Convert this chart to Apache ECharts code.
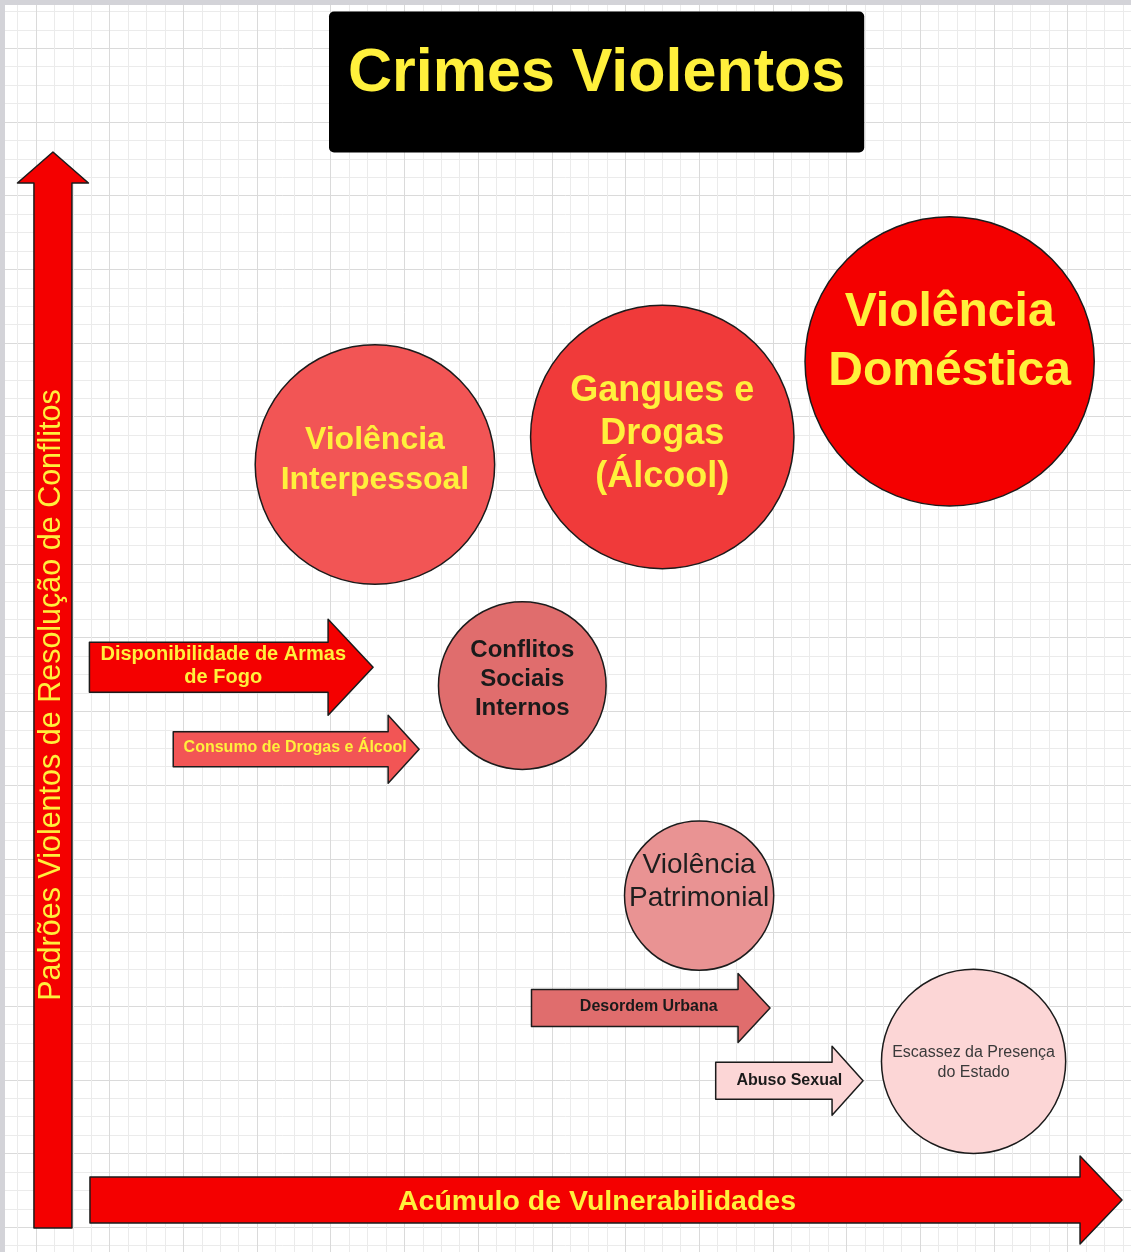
<!DOCTYPE html>
<html>
<head>
<meta charset="utf-8">
<title>Crimes Violentos</title>
<script src="https://cdn.jsdelivr.net/npm/echarts@6/dist/echarts.min.js"></script>
<style>
  html, body { margin: 0; padding: 0; background: #fff; }
  #chart { width: 1131px; height: 1252px; }
</style>
</head>
<body>
<div id="chart"></div>
<script>
// values are in grid-cell units: x = accumulated vulnerability, y = violent conflict patterns
const titleText = 'Crimes Violentos';
const xAxisTitle = 'Acúmulo de Vulnerabilidades';
const yAxisTitle = 'Padrões Violentos de Resolução de Conflitos';

const crimeNames = [
  'Violência\nInterpessoal',
  'Gangues e\nDrogas\n(Álcool)',
  'Violência\nDoméstica',
  'Conflitos\nSociais\nInternos',
  'Violência\nPatrimonial',
  'Escassez da Presença\ndo Estado'
];
const crimeVulnerability = [22.4, 38.0, 53.6, 30.4, 40.0, 54.9];
const crimeViolence = [45.4, 46.9, 51.0, 33.4, 22.0, 13.0];
const crimeWeight = [13.0, 14.3, 15.7, 9.1, 8.1, 10.0];

const factorNames = [
  'Disponibilidade de Armas\nde Fogo',
  'Consumo de Drogas e Álcool',
  'Desordem Urbana',
  'Abuso Sexual'
];
const factorFrom = [6.9, 11.45, 30.9, 40.9];
const factorTo = [22.3, 24.8, 43.85, 48.9];
const factorLevel = [34.4, 29.95, 15.9, 11.95];

// [from, to, level] and [position, from, to]
const xArrowValues = [6.93, 62.96, 5.48];
const yArrowValues = [4.92, 3.96, 62.37];

// styling
const CELL = 18.42;
const FONT = "'Liberation Sans', Arial, sans-serif";
const YELLOW = '#FFF03C';
const OUTLINE = '#1b1b1b';

const crimeStyles = [
  { fill: '#F25555', text: YELLOW, size: 32, weight: 'bold', lh: 40, dy: -4 },
  { fill: '#F03A3A', text: YELLOW, size: 36, weight: 'bold', lh: 43, dy: -3 },
  { fill: '#F40000', text: YELLOW, size: 48, weight: 'bold', lh: 59, dy: -19 },
  { fill: '#E06D6D', text: '#1a1a1a', size: 24, weight: 'bold', lh: 29, dy: -6 },
  { fill: '#E99393', text: '#1e1e1e', size: 28, weight: 'normal', lh: 33, dy: -14 },
  { fill: '#FCD6D6', text: '#3a3a3a', size: 16, weight: 'normal', lh: 20, dy: 1 }
];

const factorStyles = [
  { fill: '#F40000', text: YELLOW, size: 20, lh: 23, shaft: 50, head: 96, headLen: 45, dx: -8, dy: -1.5 },
  { fill: '#F25555', text: YELLOW, size: 16, lh: 20, shaft: 35, head: 68, headLen: 31, dx: -1, dy: -2 },
  { fill: '#E06D6D', text: '#1a1a1a', size: 16, lh: 20, shaft: 37, head: 69, headLen: 32, dx: -2, dy: -1 },
  { fill: '#FCD6D6', text: '#1a1a1a', size: 16, lh: 20, shaft: 37, head: 69, headLen: 31, dx: 0, dy: 0 }
];

const xArrowStyle = { fill: '#F40000', text: YELLOW, size: 28.5, lh: 30, shaft: 46, head: 88, headLen: 42, dx: -9, dy: 2 };
const yArrowStyle = { fill: '#F40000', text: YELLOW, size: 30.5, weight: 'normal', lh: 32, shaft: 38, head: 71, headLen: 31, dx: -1, dy: 5 };

function textEl(label, st) {
  return {
    text: label,
    fill: st.text,
    fontSize: st.size,
    fontWeight: st.weight || 'bold',
    fontFamily: FONT,
    lineHeight: st.lh,
    align: 'center',
    verticalAlign: 'middle'
  };
}

function hArrow(x0, x1, y, st, label) {
  const hs = st.shaft / 2, hh = st.head / 2, xb = x1 - st.headLen;
  return {
    type: 'group',
    children: [
      {
        type: 'polygon',
        shape: { points: [[x0, y - hs], [xb, y - hs], [xb, y - hh], [x1, y], [xb, y + hh], [xb, y + hs], [x0, y + hs]] },
        style: { fill: st.fill, stroke: OUTLINE, lineWidth: 1.5, lineJoin: 'round' }
      },
      {
        type: 'text',
        x: (x0 + x1) / 2 + st.dx,
        y: y + st.dy,
        style: textEl(label, st)
      }
    ]
  };
}

function vArrow(x, y0, y1, st, label) {
  const hs = st.shaft / 2, hh = st.head / 2, yb = y1 + st.headLen;
  return {
    type: 'group',
    children: [
      {
        type: 'polygon',
        shape: { points: [[x - hs, y0], [x - hs, yb], [x - hh, yb], [x, y1], [x + hh, yb], [x + hs, yb], [x + hs, y0]] },
        style: { fill: st.fill, stroke: OUTLINE, lineWidth: 1.5, lineJoin: 'round' }
      },
      {
        type: 'text',
        x: x + st.dx,
        y: (y0 + y1) / 2 + st.dy,
        rotation: Math.PI / 2,
        style: textEl(label, st)
      }
    ]
  };
}

const chart = echarts.init(document.getElementById('chart'));

const crimeData = crimeNames.map((name, i) => ({
  name: name,
  value: [crimeVulnerability[i], crimeViolence[i], crimeWeight[i]],
  itemStyle: { color: crimeStyles[i].fill },
  label: {
    color: crimeStyles[i].text,
    fontSize: crimeStyles[i].size,
    fontWeight: crimeStyles[i].weight,
    lineHeight: crimeStyles[i].lh,
    offset: [0, crimeStyles[i].dy]
  }
}));

const factorData = factorNames.map((name, i) => ({
  name: name,
  value: [factorFrom[i], factorTo[i], factorLevel[i]]
}));

const gridAxis = {
  type: 'value',
  interval: 4,
  axisLine: { show: false },
  axisTick: { show: false },
  axisLabel: { show: false },
  splitLine: { show: true, lineStyle: { color: '#dadada', width: 1 } },
  minorTick: { show: false, splitNumber: 4 },
  minorSplitLine: { show: true, lineStyle: { color: '#ebebeb', width: 1 } }
};

const option = {
  backgroundColor: '#ffffff',
  animation: false,
  title: {
    text: titleText,
    left: 329,
    top: 12,
    backgroundColor: '#000000',
    borderRadius: 5,
    padding: [32, 19, 48, 19],
    textStyle: { color: YELLOW, fontSize: 61, fontWeight: 'bold', fontFamily: FONT, lineHeight: 60 }
  },
  graphic: [{
    type: 'rect',
    left: 0,
    top: 0,
    z: 100,
    silent: true,
    shape: { width: 1131, height: 1252 },
    style: { fill: 'none', stroke: '#d3d3d8', lineWidth: 5 }
  }],
  grid: {
    left: 36 - 4 * CELL,
    top: 48.3 - 4 * CELL,
    width: 64 * CELL,
    height: 72 * CELL,
    outerBoundsMode: 'none',
    containLabel: false
  },
  xAxis: Object.assign({ min: 0, max: 64 }, gridAxis),
  yAxis: Object.assign({ min: 0, max: 72 }, gridAxis),
  series: [
    {
      type: 'custom',
      name: 'eixoX',
      z: 2,
      silent: true,
      clip: false,
      data: [{ value: xArrowValues }],
      renderItem: function (params, api) {
        const a = api.coord([api.value(0), api.value(2)]);
        const b = api.coord([api.value(1), api.value(2)]);
        return hArrow(a[0], b[0], a[1], xArrowStyle, xAxisTitle);
      }
    },
    {
      type: 'custom',
      name: 'eixoY',
      z: 2,
      silent: true,
      clip: false,
      data: [{ value: yArrowValues }],
      renderItem: function (params, api) {
        const a = api.coord([api.value(0), api.value(1)]);
        const b = api.coord([api.value(0), api.value(2)]);
        return vArrow(a[0], a[1], b[1], yArrowStyle, yAxisTitle);
      }
    },
    {
      type: 'custom',
      name: 'fatores',
      z: 3,
      silent: true,
      clip: false,
      data: factorData,
      renderItem: function (params, api) {
        const i = params.dataIndex;
        const a = api.coord([api.value(0), api.value(2)]);
        const b = api.coord([api.value(1), api.value(2)]);
        return hArrow(a[0], b[0], a[1], factorStyles[i], factorNames[i]);
      }
    },
    {
      type: 'scatter',
      name: 'crimes',
      z: 4,
      silent: true,
      symbol: 'circle',
      symbolSize: function (val) { return val[2] * CELL; },
      itemStyle: { opacity: 1, borderColor: OUTLINE, borderWidth: 1.5 },
      label: {
        show: true,
        position: 'inside',
        fontFamily: FONT,
        formatter: function (p) { return p.name; }
      },
      emphasis: { disabled: true },
      data: crimeData
    }
  ]
};

chart.setOption(option);
</script>
</body>
</html>
